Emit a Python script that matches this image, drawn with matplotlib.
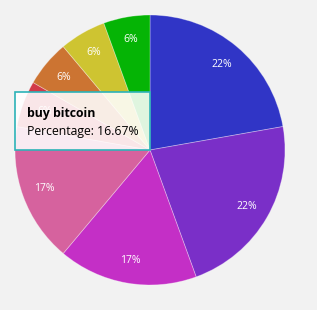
import matplotlib
matplotlib.use("Agg")
import matplotlib.pyplot as plt
from matplotlib.patches import Rectangle

# slice counts (of 18) in clockwise order from 12 o'clock
labels = ["a", "b", "c", "buy bitcoin", "e", "f", "g", "h"]
values = [4, 4, 3, 3, 1, 1, 1, 1]
colors = ["#3035c6", "#7a2fc8", "#c42fc6", "#d6629e", "#d23a48",
          "#cc7432", "#cec431", "#05b405"]

tip_title = "buy bitcoin"
tip_text = "Percentage: 16.67%"

W, H = 317, 310
fig = plt.figure(figsize=(W / 100, H / 100), dpi=100)
fig.patch.set_facecolor("#f2f2f2")
ax = fig.add_axes([0, 0, 1, 1])
ax.set_facecolor("#f2f2f2")
ax.set_aspect("equal")
ax.axis("off")

cx, cy, r = 150, H - 150, 135
wedges, texts, autotexts = ax.pie(
    values, colors=colors, startangle=90, counterclock=False,
    center=(cx, cy), radius=r, autopct="%.0f%%", pctdistance=0.83,
    wedgeprops=dict(edgecolor=(1, 1, 1, 0.35), linewidth=0.6),
    textprops=dict(color="white", fontsize=7.5, family="Open Sans"),
)
ax.set_xlim(0, W)
ax.set_ylim(0, H)

# tooltip (covers the small red slice label, as in the original)
x0, y0, x1, y1 = 15, 92, 150, 150
ax.add_patch(Rectangle((x0, H - y1), x1 - x0, y1 - y0, facecolor=(1, 1, 1, 0.88),
                       edgecolor="#2db3b8", linewidth=1.2, zorder=5))
ax.text(27, H - 117, tip_title, fontsize=8.8, fontweight="bold", family="Open Sans",
        color="black", zorder=6)
ax.text(27, H - 135, tip_text, fontsize=8.8, family="Open Sans",
        color="black", zorder=6)

fig.savefig("out.png", dpi=100, facecolor=fig.get_facecolor())
